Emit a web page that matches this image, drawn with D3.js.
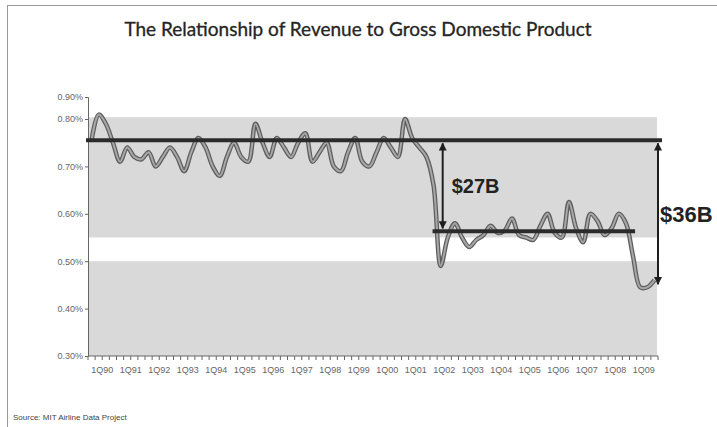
<!DOCTYPE html>
<html>
<head>
<meta charset="utf-8">
<script src="https://cdn.jsdelivr.net/npm/d3@7"></script>
<style>
  html, body { margin: 0; padding: 0; background: #fff; }
  svg { display: block; }
</style>
</head>
<body>
<svg id="chart" width="717" height="427"></svg>
<script>
// Quarterly categories 1Q90 .. 4Q09
const years = d3.range(1990, 2010);
const quarters = [];
years.forEach(yr => [1, 2, 3, 4].forEach(q => quarters.push(q + "Q" + String(yr).slice(2))));

// Airline revenue as a share of GDP, in percent, one value per quarter
const revenueShare = [
  0.755, 0.820, 0.790, 0.750, 0.710, 0.740, 0.720, 0.715,
  0.730, 0.700, 0.720, 0.740, 0.720, 0.690, 0.730, 0.760,
  0.740, 0.700, 0.680, 0.720, 0.750, 0.720, 0.710, 0.790,
  0.750, 0.720, 0.760, 0.740, 0.720, 0.750, 0.770, 0.710,
  0.730, 0.750, 0.700, 0.690, 0.730, 0.760, 0.710, 0.700,
  0.730, 0.760, 0.740, 0.720, 0.800, 0.760, 0.740, 0.720,
  0.660, 0.490, 0.550, 0.580, 0.550, 0.530, 0.545, 0.555,
  0.575, 0.560, 0.565, 0.590, 0.555, 0.550, 0.545, 0.575,
  0.600, 0.560, 0.550, 0.625, 0.570, 0.540, 0.600, 0.585,
  0.555, 0.570, 0.600, 0.580, 0.510, 0.445, 0.445, 0.460
];

// Period averages and the revenue gaps they imply
const avgBefore = 0.755;   // 1990-2001
const avgAfter = 0.563;    // 2002-2008
const latestLevel = 0.445; // 2009
const gapLabels = ["$27B", "$36B"];

const yTicks = [0.30, 0.40, 0.50, 0.60, 0.70, 0.80, 0.90];
const xTickLabels = quarters.filter((q, i) => i % 4 === 0);

const svg = d3.select("#chart");

// outer frame
svg.append("line").attr("x1", 7.5).attr("x2", 7.5).attr("y1", 5).attr("y2", 427)
  .attr("stroke", "#9a9a9a").attr("stroke-width", 1);
svg.append("line").attr("x1", 7).attr("x2", 717).attr("y1", 5.5).attr("y2", 5.5)
  .attr("stroke", "#9a9a9a").attr("stroke-width", 1);

// title
svg.append("text")
  .attr("x", 358).attr("y", 36)
  .attr("text-anchor", "middle")
  .attr("font-family", "Lato, 'Open Sans', sans-serif")
  .attr("font-size", 19)
  .attr("fill", "#222")
  .attr("stroke", "#333").attr("stroke-width", 0.35)
  .text("The Relationship of Revenue to Gross Domestic Product");

const x = d3.scaleBand().domain(quarters).range([88, 658]);
// the top interval of the value axis is drawn compressed
const y = d3.scaleLinear().domain([0.30, 0.80, 0.90]).range([356, 119, 97]);
const cx = q => x(q) + x.bandwidth() / 2;

// shaded plot bands
const plotRight = 657;
[[0.808, 0.55], [0.50, 0.30]].forEach(([top, bot]) => {
  svg.append("rect")
    .attr("x", x.range()[0]).attr("y", y(top))
    .attr("width", plotRight - x.range()[0]).attr("height", y(bot) - y(top))
    .attr("fill", "#d9d9d9");
});

// y axis
const yAxis = d3.axisLeft(y).tickValues(yTicks).tickSize(3).tickPadding(2)
  .tickFormat(d => d.toFixed(2) + "%");
const gy = svg.append("g").attr("transform", `translate(${x.range()[0]},0)`).call(yAxis);
gy.select(".domain").attr("stroke", "#666");
gy.selectAll(".tick line").attr("stroke", "#666");
gy.selectAll("text").attr("font-family", "'Liberation Sans', Arial, sans-serif")
  .attr("font-size", 9).attr("fill", "#666");

// x axis with a tick at every quarter boundary, labels centred on each year
const gx = svg.append("g").attr("transform", `translate(0,${y(0.30)})`);
gx.append("line").attr("x1", x.range()[0]).attr("x2", x.range()[1])
  .attr("stroke", "#666");
gx.selectAll("line.qt").data(quarters.concat(["end"])).join("line")
  .attr("class", "qt")
  .attr("x1", (q, i) => x.range()[0] + i * x.step())
  .attr("x2", (q, i) => x.range()[0] + i * x.step())
  .attr("y1", 0).attr("y2", 4)
  .attr("stroke", "#666");
gx.selectAll("text").data(xTickLabels).join("text")
  .attr("x", q => x(q) + 2 * x.step()).attr("y", 17)
  .attr("text-anchor", "middle")
  .attr("font-family", "'Liberation Sans', Arial, sans-serif")
  .attr("font-size", 9).attr("fill", "#666")
  .text(q => q);

// the series: a grey ribbon with a darker edge
const series = quarters.map((q, i) => ({ q, v: revenueShare[i] }));
const line = d3.line().x(d => cx(d.q)).y(d => y(d.v)).curve(d3.curveCatmullRom.alpha(0.5));
svg.append("path").datum(series).attr("d", line)
  .attr("fill", "none").attr("stroke", "#5e5e5e").attr("stroke-width", 4.5)
  .attr("stroke-linejoin", "round");
svg.append("path").datum(series).attr("d", line)
  .attr("fill", "none").attr("stroke", "#a8a8a8").attr("stroke-width", 2)
  .attr("stroke-linejoin", "round");

// average levels
svg.append("line")
  .attr("x1", x.range()[0] - 2).attr("x2", x.range()[1] + 4)
  .attr("y1", y(avgBefore)).attr("y2", y(avgBefore))
  .attr("stroke", "#2b2b2b").attr("stroke-width", 4);
svg.append("line")
  .attr("x1", cx("1Q02") - 1).attr("x2", cx("1Q09") + 2)
  .attr("y1", y(avgAfter)).attr("y2", y(avgAfter))
  .attr("stroke", "#2b2b2b").attr("stroke-width", 4);

// double-headed gap arrows
const defs = svg.append("defs");
defs.append("marker").attr("id", "head").attr("viewBox", "0 0 10 10")
  .attr("refX", 9).attr("refY", 5).attr("markerWidth", 4).attr("markerHeight", 4)
  .attr("orient", "auto-start-reverse")
  .append("path").attr("d", "M0,0 L10,5 L0,10 z").attr("fill", "#1e1e1e");

function gapArrow(xPos, fromV, toV) {
  svg.append("line")
    .attr("x1", xPos).attr("x2", xPos)
    .attr("y1", y(fromV) + 3).attr("y2", y(toV) - 3)
    .attr("stroke", "#1e1e1e").attr("stroke-width", 2)
    .attr("marker-start", "url(#head)").attr("marker-end", "url(#head)");
}
const arrow1X = cx("2Q02") + 2;
const arrow2X = x.range()[1];
gapArrow(arrow1X, avgBefore, avgAfter);
gapArrow(arrow2X, avgBefore, latestLevel);

svg.append("text").attr("x", arrow1X + 9).attr("y", y((avgBefore + avgAfter) / 2) + 7)
  .attr("font-family", "'Liberation Sans', Arial, sans-serif")
  .attr("font-size", 20).attr("font-weight", "bold").attr("fill", "#222")
  .text(gapLabels[0]);
svg.append("text").attr("x", arrow2X + 2).attr("y", y((avgBefore + latestLevel) / 2) + 8)
  .attr("font-family", "'Liberation Sans', Arial, sans-serif")
  .attr("font-size", 22).attr("font-weight", "bold").attr("fill", "#222")
  .text(gapLabels[1]);

// source note
svg.append("text").attr("x", 13).attr("y", 420)
  .attr("font-family", "'Liberation Sans', Arial, sans-serif")
  .attr("font-size", 8).attr("fill", "#444")
  .text("Source:  MIT Airline Data Project");
</script>
</body>
</html>
